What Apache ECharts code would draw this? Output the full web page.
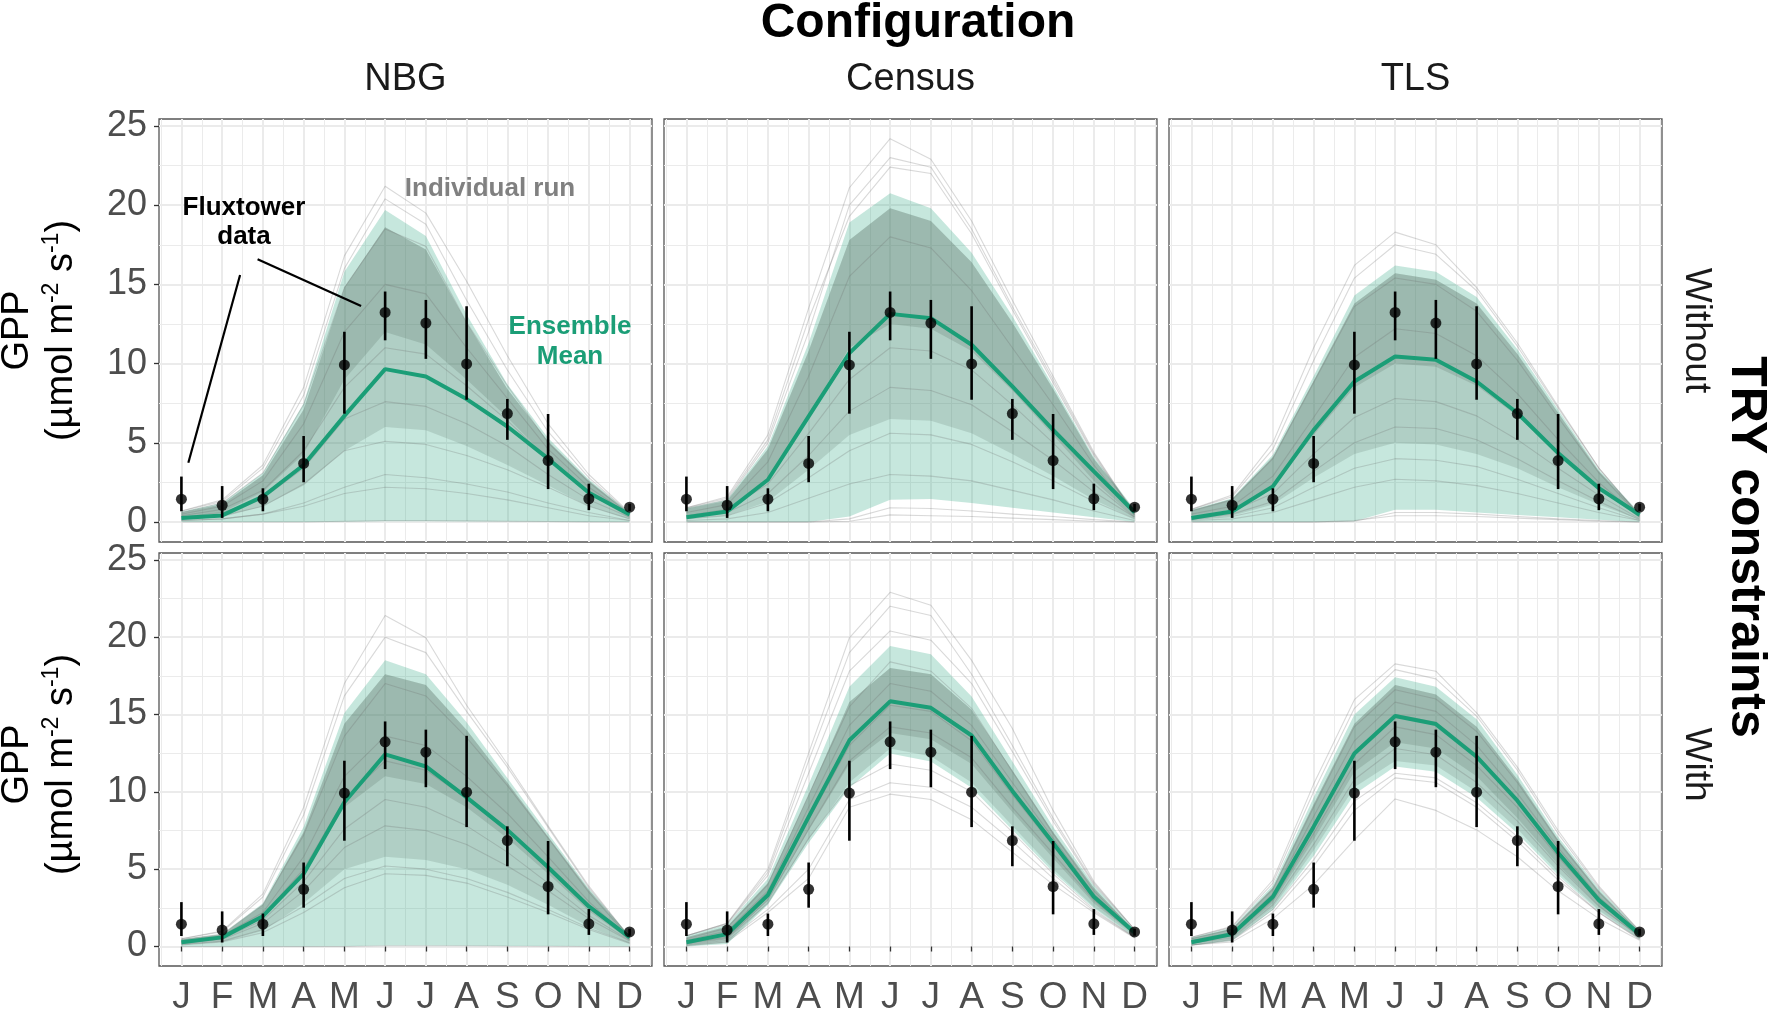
<!DOCTYPE html>
<html>
<head>
<meta charset="utf-8">
<script src="https://cdn.jsdelivr.net/npm/echarts@6/dist/echarts.min.js"></script>
<style>
  html, body { margin: 0; padding: 0; background: #fff; }
  #chart { width: 1786px; height: 1016px; }
</style>
</head>
<body>
<div id="chart"></div>
<script>
// ── Data ────────────────────────────────────────────────────────────────
const months = ['J', 'F', 'M', 'A', 'M', 'J', 'J', 'A', 'S', 'O', 'N', 'D'];
const monthPos = [1, 2, 3, 4, 5, 6, 7, 8, 9, 10, 11, 12];
const monthMid = [0.5, 1.5, 2.5, 3.5, 4.5, 5.5, 6.5, 7.5, 8.5, 9.5, 10.5, 11.5, 12.5];
const yTicks = [0, 5, 10, 15, 20, 25];
const yMinor = [2.5, 7.5, 12.5, 17.5, 22.5];
const configurations = ['NBG', 'Census', 'TLS'];
const constraints = ['Without', 'With'];

// fluxtower observations (same in every panel)
const obsMean = [1.44, 1.06, 1.44, 3.70, 9.92, 13.23, 12.56, 9.98, 6.85, 3.88, 1.47, 0.94];
const obsLow  = [0.68, 0.26, 0.68, 2.51, 6.84, 11.47, 10.30, 7.72, 5.19, 2.08, 0.75, 0.70];
const obsHigh = [2.87, 2.27, 2.13, 5.43, 12.01, 14.55, 14.02, 13.62, 7.77, 6.82, 2.42, 1.15];

// NBG, without TRY constraints
const nbgWithoutMean     = [0.25, 0.42, 1.60, 3.60, 6.70, 9.65, 9.19, 7.76, 6.03, 4.00, 1.85, 0.48];
const nbgWithoutUpper    = [0.67, 1.20, 3.10, 7.50, 15.80, 19.70, 18.05, 13.10, 8.70, 5.30, 2.70, 0.60];
const nbgWithoutLower    = [0.00, 0.00, 0.00, 0.00, 0.02, 0.05, 0.05, 0.04, 0.03, 0.02, 0.01, 0.00];
const nbgWithoutDenseTop = [0.62, 1.12, 2.95, 7.10, 14.80, 18.60, 17.20, 12.60, 8.40, 5.10, 2.60, 0.55];
const nbgWithoutDenseLow = [0.15, 0.30, 1.00, 2.30, 4.50, 6.00, 5.80, 4.80, 3.60, 2.30, 1.00, 0.18];
const nbgWithoutCoreLow  = [0.30, 0.60, 1.90, 4.30, 9.00, 12.00, 11.20, 9.00, 6.60, 4.00, 1.80, 0.25];
const nbgWithoutRuns = [
  [0.70, 1.40, 3.60, 8.50, 16.80, 21.20, 19.50, 15.20, 10.50, 6.20, 3.00, 0.60],
  [0.70, 1.30, 3.40, 8.00, 16.00, 20.40, 18.80, 14.00, 9.60, 5.70, 2.80, 0.55],
  [0.60, 1.20, 3.10, 7.40, 14.80, 18.50, 17.40, 12.60, 8.60, 5.00, 2.50, 0.50],
  [0.50, 1.00, 2.60, 6.20, 12.00, 15.00, 14.40, 11.00, 7.80, 4.60, 2.20, 0.45],
  [0.40, 0.80, 2.00, 4.50, 8.50, 11.00, 10.60, 8.60, 6.40, 4.00, 1.90, 0.40],
  [0.30, 0.60, 1.50, 3.40, 6.50, 7.60, 7.30, 6.20, 4.80, 3.00, 1.40, 0.30],
  [0.20, 0.40, 1.00, 2.40, 4.50, 5.10, 4.90, 4.20, 3.30, 2.20, 1.00, 0.20],
  [0.10, 0.20, 0.50, 1.20, 2.20, 3.00, 2.80, 2.40, 1.90, 1.20, 0.60, 0.10],
  [0.10, 0.20, 0.50, 1.00, 1.80, 2.20, 2.10, 1.80, 1.40, 0.90, 0.40, 0.10],
  [0.00, 0.00, 0.00, 0.00, 0.05, 0.10, 0.10, 0.08, 0.05, 0.03, 0.01, 0.00],
];

// Census, without
const censusWithoutMean     = [0.30, 0.67, 2.67, 6.67, 10.66, 13.14, 12.87, 11.19, 8.56, 5.82, 3.20, 0.62];
const censusWithoutUpper    = [0.88, 1.40, 4.80, 11.30, 18.90, 20.75, 19.80, 17.00, 13.00, 8.60, 4.10, 0.80];
const censusWithoutLower    = [0.00, 0.00, 0.00, 0.00, 0.35, 1.40, 1.45, 1.20, 0.90, 0.60, 0.30, 0.00];
const censusWithoutDenseTop = [0.84, 1.35, 4.60, 10.80, 17.80, 19.80, 19.00, 16.40, 12.60, 8.40, 4.00, 0.75];
const censusWithoutDenseLow = [0.20, 0.40, 1.30, 3.30, 5.50, 6.50, 6.40, 5.60, 4.30, 2.90, 1.40, 0.20];
const censusWithoutCoreLow  = [0.40, 0.80, 2.80, 6.80, 11.00, 12.50, 12.20, 10.80, 8.30, 5.50, 2.60, 0.30];
const censusWithoutRuns = [
  [0.90, 1.60, 5.50, 13.50, 21.10, 24.20, 22.90, 19.00, 14.00, 9.20, 4.40, 0.50],
  [0.90, 1.50, 5.20, 12.80, 19.30, 22.40, 22.00, 18.20, 13.40, 8.80, 4.20, 0.45],
  [0.85, 1.40, 5.00, 12.00, 20.00, 23.00, 22.40, 18.50, 13.60, 9.00, 4.30, 0.50],
  [0.60, 1.10, 3.80, 9.20, 15.50, 18.00, 17.30, 14.60, 11.00, 7.40, 3.60, 0.40],
  [0.40, 0.80, 2.40, 5.60, 9.00, 11.00, 10.80, 9.60, 7.40, 5.00, 2.40, 0.30],
  [0.30, 0.60, 1.80, 4.20, 7.00, 8.50, 8.30, 7.40, 5.70, 3.90, 1.90, 0.30],
  [0.20, 0.40, 1.20, 2.80, 4.50, 5.60, 5.50, 4.90, 3.80, 2.60, 1.30, 0.20],
  [0.10, 0.20, 0.60, 1.50, 2.40, 3.00, 2.90, 2.60, 2.00, 1.40, 0.70, 0.10],
  [0.00, 0.00, 0.00, 0.00, 0.20, 0.90, 0.85, 0.70, 0.50, 0.35, 0.15, 0.00],
  [0.00, 0.00, 0.00, 0.00, 0.05, 0.45, 0.40, 0.35, 0.25, 0.15, 0.05, 0.00],
];

// TLS, without
const tlsWithoutMean     = [0.25, 0.67, 2.25, 5.80, 8.87, 10.45, 10.24, 8.87, 6.88, 4.35, 2.14, 0.46];
const tlsWithoutUpper    = [0.78, 1.50, 4.25, 9.20, 14.30, 16.20, 15.80, 14.20, 10.90, 7.10, 3.30, 0.60];
const tlsWithoutLower    = [0.00, 0.00, 0.00, 0.00, 0.05, 0.78, 0.78, 0.60, 0.45, 0.30, 0.15, 0.00];
const tlsWithoutDenseTop = [0.74, 1.45, 4.10, 8.90, 13.80, 15.70, 15.30, 13.80, 10.60, 6.90, 3.20, 0.55];
const tlsWithoutDenseLow = [0.15, 0.40, 1.10, 2.80, 4.30, 5.00, 4.90, 4.30, 3.40, 2.20, 1.10, 0.15];
const tlsWithoutCoreLow  = [0.30, 0.80, 2.30, 5.50, 8.50, 10.00, 9.80, 8.60, 6.70, 4.30, 2.10, 0.25];
const tlsWithoutRuns = [
  [0.80, 1.70, 5.00, 11.00, 16.20, 18.30, 17.50, 14.80, 11.30, 7.30, 3.40, 0.40],
  [0.80, 1.60, 4.60, 10.20, 15.40, 17.50, 16.90, 14.60, 11.10, 7.20, 3.40, 0.40],
  [0.70, 1.40, 4.00, 8.80, 13.60, 15.40, 15.00, 13.30, 10.20, 6.60, 3.10, 0.35],
  [0.50, 1.00, 2.90, 6.60, 10.40, 12.20, 11.90, 10.50, 8.10, 5.20, 2.50, 0.30],
  [0.30, 0.70, 1.80, 4.30, 6.60, 7.80, 7.60, 6.70, 5.20, 3.40, 1.70, 0.20],
  [0.20, 0.50, 1.30, 3.20, 5.00, 6.00, 5.90, 5.20, 4.00, 2.60, 1.30, 0.15],
  [0.15, 0.35, 0.90, 2.20, 3.40, 4.00, 3.90, 3.50, 2.70, 1.80, 0.90, 0.10],
  [0.10, 0.20, 0.60, 1.40, 2.20, 2.70, 2.60, 2.30, 1.80, 1.20, 0.60, 0.10],
  [0.00, 0.00, 0.00, 0.00, 0.05, 0.60, 0.60, 0.50, 0.35, 0.20, 0.10, 0.00],
  [0.00, 0.00, 0.00, 0.00, 0.10, 0.40, 0.40, 0.35, 0.25, 0.15, 0.05, 0.00],
];

// NBG, with TRY constraints
const nbgWithMean     = [0.27, 0.59, 1.96, 4.70, 9.33, 12.42, 11.64, 9.64, 7.54, 5.12, 2.59, 0.59];
const nbgWithUpper    = [0.48, 0.80, 2.80, 7.75, 15.10, 18.50, 17.60, 14.50, 10.90, 7.30, 3.75, 0.70];
const nbgWithLower    = [0.00, 0.00, 0.00, 0.00, 0.02, 0.06, 0.06, 0.05, 0.04, 0.03, 0.01, 0.00];
const nbgWithDenseTop = [0.46, 0.78, 2.70, 7.40, 14.40, 17.60, 16.90, 14.00, 10.60, 7.10, 3.65, 0.68];
const nbgWithDenseLow = [0.10, 0.30, 1.00, 2.80, 5.00, 5.80, 5.60, 5.00, 4.00, 2.70, 1.30, 0.20];
const nbgWithCoreLow  = [0.25, 0.55, 1.90, 4.80, 9.00, 11.00, 10.50, 9.00, 7.00, 4.70, 2.30, 0.40];
const nbgWithRuns = [
  [0.50, 1.00, 3.40, 9.00, 17.00, 21.40, 19.96, 15.60, 11.80, 7.80, 3.90, 0.60],
  [0.50, 0.95, 3.20, 8.50, 16.20, 20.00, 19.00, 15.20, 11.60, 7.70, 3.80, 0.60],
  [0.45, 0.80, 2.70, 7.20, 13.60, 17.00, 16.20, 13.50, 10.40, 7.00, 3.50, 0.55],
  [0.35, 0.70, 2.20, 5.80, 11.00, 13.60, 13.00, 11.00, 8.60, 5.80, 2.90, 0.50],
  [0.30, 0.60, 2.00, 5.00, 9.50, 12.00, 11.40, 9.60, 7.50, 5.00, 2.50, 0.45],
  [0.25, 0.50, 1.70, 4.20, 7.60, 9.50, 9.00, 7.80, 6.10, 4.10, 2.00, 0.40],
  [0.20, 0.45, 1.50, 3.60, 6.40, 7.80, 7.50, 6.60, 5.20, 3.60, 1.80, 0.35],
  [0.15, 0.35, 1.10, 2.60, 4.40, 5.20, 5.00, 4.40, 3.50, 2.40, 1.20, 0.25],
  [0.10, 0.30, 0.90, 2.20, 3.80, 4.70, 4.60, 4.10, 3.20, 2.20, 1.10, 0.20],
  [0.00, 0.00, 0.00, 0.00, 0.00, 0.05, 0.05, 0.05, 0.03, 0.02, 0.00, 0.00],
];

// Census, with
const censusWithMean     = [0.27, 0.80, 3.33, 8.38, 13.33, 15.85, 15.43, 13.64, 10.06, 6.69, 3.22, 0.90];
const censusWithUpper    = [0.69, 1.43, 4.38, 10.48, 16.80, 19.43, 18.90, 16.17, 11.96, 7.75, 3.96, 1.10];
const censusWithLower    = [0.00, 0.17, 2.70, 6.70, 10.27, 12.48, 11.96, 10.27, 7.54, 4.80, 2.48, 0.60];
const censusWithDenseTop = [0.60, 1.30, 4.10, 9.80, 15.80, 18.00, 17.60, 15.30, 11.40, 7.40, 3.80, 1.00];
const censusWithDenseLow = [0.05, 0.25, 2.80, 6.90, 10.60, 12.80, 12.30, 10.60, 7.80, 5.00, 2.55, 0.65];
const censusWithCoreLow  = [0.20, 0.50, 3.00, 7.50, 11.80, 13.80, 13.40, 11.80, 8.70, 5.70, 2.80, 0.75];
const censusWithRuns = [
  [0.70, 1.50, 5.00, 12.50, 19.96, 22.90, 22.06, 18.50, 14.10, 8.80, 4.20, 1.10],
  [0.70, 1.50, 4.80, 12.00, 19.00, 22.00, 21.40, 17.60, 13.00, 8.30, 4.10, 1.10],
  [0.70, 1.45, 4.60, 11.20, 17.80, 20.40, 19.80, 17.00, 12.60, 8.10, 4.00, 1.10],
  [0.50, 1.20, 4.00, 9.80, 15.50, 18.40, 17.80, 15.40, 11.30, 7.30, 3.60, 1.00],
  [0.40, 1.00, 3.60, 9.00, 14.30, 17.00, 16.50, 14.30, 10.60, 7.00, 3.40, 0.95],
  [0.30, 0.80, 3.30, 8.20, 13.00, 15.60, 15.20, 13.30, 9.80, 6.50, 3.20, 0.90],
  [0.20, 0.60, 3.00, 7.60, 12.00, 14.20, 13.80, 12.20, 9.00, 6.00, 3.00, 0.80],
  [0.15, 0.50, 2.80, 7.00, 10.40, 11.80, 11.40, 10.00, 7.40, 4.70, 2.40, 0.60],
  [0.10, 0.40, 2.40, 5.00, 9.50, 10.59, 10.30, 9.00, 6.80, 4.40, 2.30, 0.60],
  [0.05, 0.30, 2.20, 4.40, 9.00, 9.85, 9.50, 8.20, 6.10, 4.00, 2.20, 0.55],
];

// TLS, with
const tlsWithMean     = [0.27, 0.80, 3.22, 7.75, 12.48, 14.90, 14.38, 12.27, 9.43, 6.06, 3.00, 0.80];
const tlsWithUpper    = [0.59, 1.22, 3.96, 9.64, 15.00, 17.40, 16.80, 14.70, 11.10, 7.10, 3.75, 1.00];
const tlsWithLower    = [0.06, 0.38, 2.38, 5.85, 9.85, 11.64, 11.30, 9.64, 7.33, 4.60, 2.27, 0.48];
const tlsWithDenseTop = [0.55, 1.15, 3.80, 9.20, 14.40, 16.90, 16.30, 14.20, 10.80, 6.90, 3.60, 0.95];
const tlsWithDenseLow = [0.10, 0.45, 2.50, 6.20, 10.30, 12.00, 11.70, 10.00, 7.60, 4.80, 2.35, 0.50];
const tlsWithCoreLow  = [0.20, 0.60, 2.80, 6.90, 11.30, 13.20, 12.80, 11.00, 8.30, 5.30, 2.60, 0.60];
const tlsWithRuns = [
  [0.60, 1.30, 4.30, 10.50, 15.96, 18.27, 17.80, 15.10, 11.60, 7.50, 3.90, 1.00],
  [0.60, 1.25, 4.10, 10.00, 15.40, 17.90, 17.30, 14.90, 11.40, 7.30, 3.80, 1.00],
  [0.50, 1.10, 3.70, 9.00, 14.20, 16.60, 16.00, 13.90, 10.60, 6.80, 3.50, 0.90],
  [0.40, 0.90, 3.40, 8.40, 13.30, 15.80, 15.20, 13.00, 9.90, 6.40, 3.20, 0.85],
  [0.35, 0.80, 3.20, 7.90, 12.60, 15.00, 14.50, 12.40, 9.50, 6.10, 3.00, 0.80],
  [0.30, 0.70, 3.00, 7.30, 11.80, 14.20, 13.70, 11.70, 9.00, 5.80, 2.90, 0.75],
  [0.20, 0.55, 2.70, 6.60, 10.80, 12.80, 12.40, 10.60, 8.10, 5.20, 2.60, 0.65],
  [0.10, 0.45, 2.40, 5.60, 9.40, 11.20, 10.90, 9.30, 7.10, 4.50, 2.20, 0.45],
  [0.08, 0.40, 2.20, 5.20, 8.80, 10.90, 10.60, 9.00, 6.80, 4.30, 2.20, 0.50],
  [0.10, 0.30, 1.80, 4.00, 6.90, 9.54, 8.80, 7.54, 5.80, 3.60, 1.80, 0.40],
];

// annotation leader lines in the NBG / Without panel (data units)
const fluxLeaderA = [[2.44, 15.59], [1.17, 3.74]];
const fluxLeaderB = [[2.87, 16.58], [5.41, 13.63]];

// ── Style ───────────────────────────────────────────────────────────────
const fontFamily = "'Liberation Sans', Arial, sans-serif";
const meanColor  = '#1b9e77';
const ribbonFill = 'rgba(27,158,119,0.25)';
const denseFill  = 'rgba(90,115,105,0.20)';
const coreFill   = 'rgba(90,115,105,0.24)';
const runColor   = 'rgba(110,110,110,0.26)';
const gridColor  = '#ebebeb';
const tickText   = '#4d4d4d';

const X_MIN = 0.45, X_MAX = 12.55, Y_MIN = -1.26, Y_MAX = 25.44;
const GRID_LEFT = [159, 664, 1169], GRID_TOP = [119, 553];
const GRID_W = 493, GRID_H = 423;

const panels = [
  { mean: nbgWithoutMean, upper: nbgWithoutUpper, lower: nbgWithoutLower, denseTop: nbgWithoutDenseTop, denseLow: nbgWithoutDenseLow, coreLow: nbgWithoutCoreLow, runs: nbgWithoutRuns },
  { mean: censusWithoutMean, upper: censusWithoutUpper, lower: censusWithoutLower, denseTop: censusWithoutDenseTop, denseLow: censusWithoutDenseLow, coreLow: censusWithoutCoreLow, runs: censusWithoutRuns },
  { mean: tlsWithoutMean, upper: tlsWithoutUpper, lower: tlsWithoutLower, denseTop: tlsWithoutDenseTop, denseLow: tlsWithoutDenseLow, coreLow: tlsWithoutCoreLow, runs: tlsWithoutRuns },
  { mean: nbgWithMean, upper: nbgWithUpper, lower: nbgWithLower, denseTop: nbgWithDenseTop, denseLow: nbgWithDenseLow, coreLow: nbgWithCoreLow, runs: nbgWithRuns },
  { mean: censusWithMean, upper: censusWithUpper, lower: censusWithLower, denseTop: censusWithDenseTop, denseLow: censusWithDenseLow, coreLow: censusWithCoreLow, runs: censusWithRuns },
  { mean: tlsWithMean, upper: tlsWithUpper, lower: tlsWithLower, denseTop: tlsWithDenseTop, denseLow: tlsWithDenseLow, coreLow: tlsWithCoreLow, runs: tlsWithRuns },
];

const pairs = (ys) => monthPos.map((m, k) => [m, ys[k]]);

// filled band between two value arrays, drawn as one polygon via the axes
function band(i, lo, hi, fill, z) {
  return {
    type: 'custom', xAxisIndex: 2 * i, yAxisIndex: 2 * i, z, silent: true,
    data: monthPos.map((m, k) => [m, lo[k], hi[k]]),
    encode: { x: 0, y: [1, 2] },
    renderItem: (params, api) => {
      if (params.dataIndex !== 0) return null;
      const top = monthPos.map((m, k) => api.coord([m, hi[k]]));
      const bot = monthPos.map((m, k) => api.coord([m, lo[k]])).reverse();
      return { type: 'polygon', shape: { points: top.concat(bot) }, style: { fill } };
    },
  };
}

const grids = [], xAxes = [], yAxes = [], series = [];

panels.forEach((p, i) => {
  const col = i % 3, row = Math.floor(i / 3);
  const bottom = row === 1, left = col === 0;
  grids.push({
    left: GRID_LEFT[col], top: GRID_TOP[row], width: GRID_W, height: GRID_H,
    show: true, borderColor: '#555', borderWidth: 1.3, backgroundColor: '#fff',
  });
  // major x
  xAxes.push({
    gridIndex: i, type: 'value', min: X_MIN, max: X_MAX,
    axisLine: { show: false },
    axisTick: { show: bottom, customValues: monthPos, length: 5, lineStyle: { color: '#333', width: 1.3 } },
    axisLabel: { show: bottom, customValues: monthPos, margin: 13, fontSize: 37, fontFamily, color: tickText,
                 formatter: (v) => months[Math.round(v) - 1] },
    splitLine: { show: true, lineStyle: { color: gridColor, width: 2 } },
  });
  // minor x
  xAxes.push({
    gridIndex: i, type: 'value', min: X_MIN, max: X_MAX,
    axisLine: { show: false },
    axisTick: { show: false, customValues: monthMid },
    axisLabel: { show: false, customValues: monthMid },
    splitLine: { show: true, lineStyle: { color: gridColor, width: 1 } },
  });
  // major y
  yAxes.push({
    gridIndex: i, type: 'value', min: Y_MIN, max: Y_MAX,
    axisLine: { show: false },
    axisTick: { show: left, customValues: yTicks, length: 5, lineStyle: { color: '#333', width: 1.3 } },
    axisLabel: { show: left, customValues: yTicks, margin: 12, fontSize: 36, fontFamily, color: tickText },
    splitLine: { show: true, lineStyle: { color: gridColor, width: 2 } },
  });
  // minor y
  yAxes.push({
    gridIndex: i, type: 'value', min: Y_MIN, max: Y_MAX, position: 'left',
    axisLine: { show: false },
    axisTick: { show: false, customValues: yMinor },
    axisLabel: { show: false, customValues: yMinor },
    splitLine: { show: true, lineStyle: { color: gridColor, width: 1 } },
  });

  const ax = { xAxisIndex: 2 * i, yAxisIndex: 2 * i };
  series.push(band(i, p.lower, p.upper, ribbonFill, 2));
  series.push(band(i, p.denseLow, p.denseTop, denseFill, 3));
  series.push(band(i, p.coreLow, p.denseTop, coreFill, 3));
  p.runs.forEach((r) => series.push({
    type: 'line', ...ax, z: 4, silent: true, data: pairs(r), symbol: 'none',
    lineStyle: { color: runColor, width: 1.1 },
  }));
  series.push({
    type: 'line', ...ax, z: 5, silent: true, data: pairs(p.mean), symbol: 'none',
    lineStyle: { color: meanColor, width: 4 },
  });
  series.push({
    type: 'custom', ...ax, z: 6, silent: true,
    data: monthPos.map((m, k) => [m, obsLow[k], obsHigh[k]]),
    encode: { x: 0, y: [1, 2] },
    renderItem: (params, api) => {
      const a = api.coord([api.value(0), api.value(1)]);
      const b = api.coord([api.value(0), api.value(2)]);
      return { type: 'line', shape: { x1: a[0], y1: a[1], x2: b[0], y2: b[1] },
               style: { stroke: '#000', lineWidth: 2.6 } };
    },
  });
  series.push({
    type: 'scatter', ...ax, z: 7, silent: true, data: pairs(obsMean),
    symbol: 'circle', symbolSize: 11, itemStyle: { color: '#000' },
  });
});

// annotation leaders
[fluxLeaderA, fluxLeaderB].forEach((seg) => series.push({
  type: 'line', xAxisIndex: 0, yAxisIndex: 0, z: 8, silent: true, data: seg, symbol: 'none',
  lineStyle: { color: '#000', width: 2.2 },
}));

const txt = (x, y, text, size, opts = {}) => ({
  type: 'text', x, y, rotation: opts.rotation || 0, z: 100,
  style: {
    text, fontSize: size, fontFamily, fontWeight: opts.weight || 'normal',
    fill: opts.color || '#000', align: 'center', verticalAlign: 'middle',
    lineHeight: opts.lineHeight, rich: opts.rich,
  },
});

const yTitleRich = {
  t: { fontSize: 38, fontFamily, fill: '#000', lineHeight: 44 },
  s: { fontSize: 23, fontFamily, fill: '#000', lineHeight: 44, verticalAlign: 'top' },
};
const yTitle = '{t|GPP}\n{t|(µmol m}{s|-2}{t| s}{s|-1}{t|)}';

const graphics = [
  txt(918, 24, 'Configuration', 48, { weight: 'bold' }),
  ...configurations.map((c, k) => txt(GRID_LEFT[k] + GRID_W / 2, 80, c, 38, { color: '#1a1a1a' })),
  ...constraints.map((c, k) => txt(1696, GRID_TOP[k] + GRID_H / 2, c, 37, { color: '#1a1a1a', rotation: -Math.PI / 2 })),
  txt(1746, 547, 'TRY constraints', 50, { weight: 'bold', rotation: -Math.PI / 2 }),
  ...constraints.map((c, k) => txt(40, GRID_TOP[k] + GRID_H / 2, yTitle, 38, { rotation: Math.PI / 2, rich: yTitleRich })),
  txt(490, 189, 'Individual run', 26, { weight: 'bold', color: '#808080' }),
  txt(244, 222, 'Fluxtower\ndata', 26, { weight: 'bold', lineHeight: 29 }),
  txt(570, 342, 'Ensemble\nMean', 26, { weight: 'bold', color: meanColor, lineHeight: 30 }),
];

const chart = echarts.init(document.getElementById('chart'), null, { renderer: 'canvas' });
chart.setOption({
  animation: false,
  backgroundColor: '#fff',
  grid: grids,
  xAxis: xAxes,
  yAxis: yAxes,
  series,
  graphic: graphics,
});
</script>
</body>
</html>
